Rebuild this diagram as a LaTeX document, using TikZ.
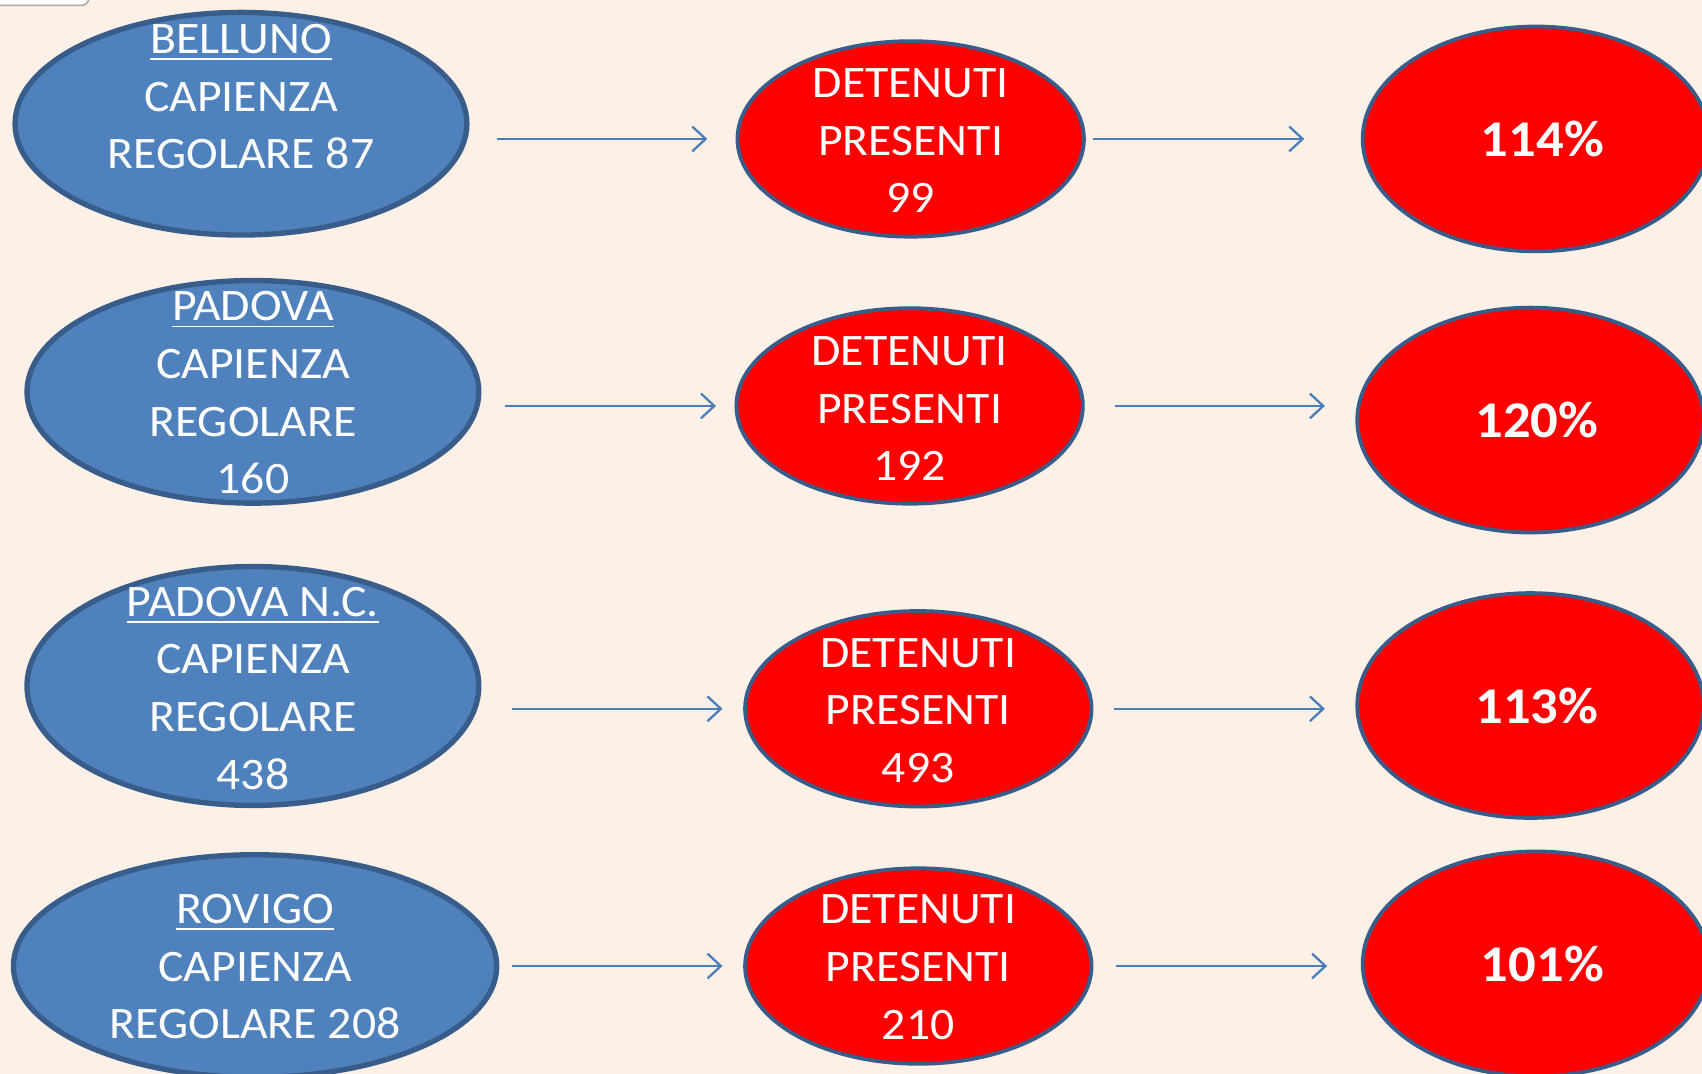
\documentclass[tikz,border=0pt]{standalone}
\usepackage{fontspec}
\setmainfont[FakeStretch=1.06]{Carlito}
\usetikzlibrary{shapes.geometric,arrows.meta}
\definecolor{sfondo}{RGB}{253,241,231}
\definecolor{blu}{RGB}{79,129,189}
\definecolor{bordoblu}{RGB}{56,93,138}
\definecolor{rosso}{RGB}{255,0,0}
\definecolor{blufreccia}{RGB}{74,126,187}
\begin{document}
\begin{tikzpicture}[
        x=0.01cm, y=-0.01cm,
        sede/.style={ellipse, draw=bordoblu, line width=1.4pt, fill=blu, inner sep=0pt,
            minimum width=4.16cm, minimum height=2.05cm},
        det/.style={ellipse, draw=bordoblu, line width=1pt, fill=rosso, inner sep=0pt,
            minimum width=3.19cm, minimum height=1.8cm},
        perc/.style={ellipse, draw=bordoblu, line width=1pt, fill=rosso, inner sep=0pt,
            minimum width=3.19cm, minimum height=2.07cm, text=white,
            font=\fontsize{13.5}{16}\selectfont\bfseries},
        testo/.style={text=white, align=center, inner sep=0pt,
            font=\fontsize{11.8}{15.1}\selectfont},
        freccia/.style={draw=blufreccia, line width=0.6pt,
            -{Straight Barb[length=3.5pt,width=6.5pt]}}
    ]
    \useasboundingbox (0,0) rectangle (1568,989);
    \clip (0,0) rectangle (1568,989);
    \fill[sfondo] (0,0) rectangle (1568,989);
    \draw[gray!70, fill=white, rounded corners=2pt] (-20,-20) rectangle (82,5);

    % Belluno
    \node[sede] (bel) at (222,114) {};
    \node[testo] (bel-t) at (222,89) {\underline{BELLUNO}\\CAPIENZA\\REGOLARE 87};
    \node[det] (bel-d) at (839,128) {};
    \node[testo] (bel-dt) at (839,129.5) {DETENUTI\\PRESENTI\\99};
    \node[perc] (bel-p) at (1415,128) {\hspace*{3.4pt}114\%};
    \draw[freccia, shorten <=0.25cm, shorten >=0.26cm] (bel.east |- bel-d.west) -- (bel-d.west);
    \draw[freccia, shorten <=0.07cm, shorten >=0.52cm] (bel-d.east) -- (bel-d.east -| bel-p.west);

    % Padova
    \node[sede] (pad) at (233,361) {};
    \node[testo] (pad-t) at (233,362) {\underline{PADOVA}\\CAPIENZA\\REGOLARE\\160};
    \node[det] (pad-d) at (838,374) {};
    \node[testo] (pad-dt) at (838,376.5) {DETENUTI\\PRESENTI\\192};
    \node[perc] (pad-p) at (1410,387) {\hspace*{3.4pt}120\%};
    \draw[freccia, shorten <=0.22cm, shorten >=0.17cm] (pad.east |- pad-d.west) -- (pad-d.west);
    \draw[freccia, shorten <=0.28cm, shorten >=0.28cm] (pad-d.east) -- (pad-d.east -| pad-p.west);

    % Padova N.C.
    \node[sede, minimum height=2.2cm] (pnc) at (233,632) {};
    \node[testo] (pnc-t) at (233,634) {\underline{PADOVA N.C.}\\CAPIENZA\\REGOLARE\\438};
    \node[det] (pnc-d) at (846,653) {};
    \node[testo] (pnc-dt) at (846,654.5) {DETENUTI\\PRESENTI\\493};
    \node[perc] (pnc-p) at (1410,650) {\hspace*{3.4pt}113\%};
    \draw[freccia, shorten <=0.28cm, shorten >=0.19cm] (pnc.east |- pnc-d.west) -- (pnc-d.west);
    \draw[freccia, shorten <=0.19cm, shorten >=0.28cm] (pnc-d.east) -- (pnc-d.east -| pnc-p.west);

    % Rovigo
    \node[sede, minimum width=4.45cm] (rov) at (235,890) {};
    \node[testo] (rov-t) at (235,890.5) {\underline{ROVIGO}\\CAPIENZA\\REGOLARE 208};
    \node[det] (rov-d) at (846,890) {};
    \node[testo] (rov-dt) at (846,891) {DETENUTI\\PRESENTI\\210};
    \node[perc] (rov-p) at (1415,888) {\hspace*{3.4pt}101\%};
    \draw[freccia, shorten <=0.12cm, shorten >=0.19cm] (rov.east |- rov-d.west) -- (rov-d.west);
    \draw[freccia, shorten <=0.21cm, shorten >=0.31cm] (rov-d.east) -- (rov-d.east -| rov-p.west);
\end{tikzpicture}
\end{document}
